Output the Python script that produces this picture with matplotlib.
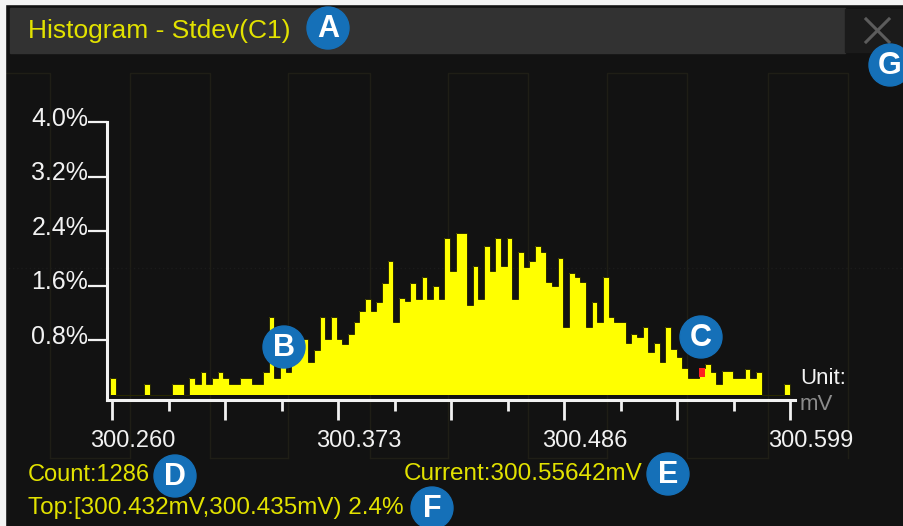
import numpy as np
import matplotlib
matplotlib.use('Agg')
import matplotlib.pyplot as plt
from matplotlib.patches import Rectangle, Circle
from matplotlib.transforms import ScaledTranslation

plt.rcParams['font.family'] = ['Liberation Sans', 'DejaVu Sans']

# histogram (percent of 1286 samples per bin)
bin_lo = 300.259
bin_hi = 300.599
hist_pct = [
    0.25, 0, 0, 0, 0, 0, 0.16, 0, 0, 0, 0, 0.16, 0.16, 0, 0.25, 0.16, 0.33, 0.16, 0.25, 0.33,
    0.25, 0.16, 0.16, 0.25, 0.25, 0.16, 0.16, 0.33, 1.15, 0.25, 0.49, 0.33, 0.58, 0.66, 0.82, 0.49,
    0.66, 1.15, 0.82, 1.15, 0.82, 0.74, 0.90, 1.07, 1.23, 1.40, 1.23, 1.36, 1.64, 1.97, 1.07, 1.42,
    1.37, 1.64, 1.40, 1.73, 1.40, 1.59, 1.40, 2.30, 1.81, 2.38, 2.38, 1.32, 1.89, 1.40, 2.18, 1.81,
    2.30, 1.89, 2.30, 1.40, 2.10, 1.88, 1.97, 2.18, 2.10, 1.66, 1.59, 2.01, 0.99, 1.79, 1.73, 1.66,
    0.99, 1.36, 1.07, 1.73, 1.15, 1.07, 1.07, 0.76, 0.90, 0.85, 0.99, 0.63, 0.76, 0.48, 0.99, 0.68,
    0.55, 0.39, 0.25, 0.25, 0.39, 0.46, 0.33, 0.16, 0.35, 0.35, 0.25, 0.25, 0.38, 0.25, 0.33, 0,
    0, 0, 0, 0.16,
]
current_bin = 104
current_red_pct = 0.13

x_axis_lo = 300.260
x_axis_hi = 300.599
x_tick_labels = ['300.260', '300.373', '300.486', '300.599']
y_ticks = [0.8, 1.6, 2.4, 3.2, 4.0]
y_tick_labels = ['0.8%', '1.6%', '2.4%', '3.2%', '4.0%']

title = 'Histogram - Stdev(C1)'
count_txt = 'Count:1286'
current_txt = 'Current:300.55642mV'
top_txt = 'Top:[300.432mV,300.435mV) 2.4%'
markers = ['A', 'B', 'C', 'D', 'E', 'F', 'G']
marker_xy = [(328, 28), (284, 347), (701, 337), (175, 476), (668, 474), (432, 508), (890, 65)]

BG = '#121212'
YELLOW = '#ffff00'
TXT_YELLOW = '#e2e200'
WHITE = '#f2f2f2'
BLUE = '#1570b8'

W, H = 904, 526
fig = plt.figure(figsize=(W / 100, H / 100), dpi=100, facecolor=BG)

# background layer in pixel coordinates
bg = fig.add_axes([0, 0, 1, 1], zorder=0)
bg.set_xlim(0, W)
bg.set_ylim(H, 0)
bg.axis('off')
bg.add_patch(Rectangle((0, 0), W, H, color=BG, zorder=0))
# faint scope trace / graticule behind the window
trace = '#1f1e16'
highs = [(-30, 50), (130, 210), (288, 370), (448, 528), (607, 687), (768, 848)]
for a, b in highs:
    bg.plot([a, a, b, b], [458, 73, 73, 458], color=trace, lw=1.0, zorder=1)
for a, b in zip([h[1] for h in highs[:-1]], [h[0] for h in highs[1:]]):
    bg.plot([a, b], [458, 458], color=trace, lw=1.0, zorder=1)
bg.plot([0, W], [268, 268], color='#1b1b1b', lw=1, ls=(0, (1, 2)), zorder=1)
# window frame and title bar
bg.add_patch(Rectangle((0, 0), W, 4, color='#f4f4f4', zorder=3))
bg.add_patch(Rectangle((0, 0), 5, H, color='#f4f4f4', zorder=3))
bg.add_patch(Rectangle((10, 8), 835, 45, color='#323232', zorder=3))
bg.add_patch(Rectangle((845, 9), 57, 43, color='#1b1b1b', zorder=3))
bg.plot([866, 889], [19, 42], color='#5c5c5c', lw=2.2, zorder=4)
bg.plot([866, 889], [42, 19], color='#5c5c5c', lw=2.2, zorder=4)
bg.text(28, 31, title, color=TXT_YELLOW, fontsize=19, va='center', ha='left', zorder=4)

# histogram axes, placed so the value scale lines up with the screen
ax = fig.add_axes([107 / W, (H - 400) / H, (795 - 107) / W, (400 - 122) / H], zorder=1)
ax.set_facecolor('none')
px_per_mv = 678 / (x_axis_hi - x_axis_lo)
ax.set_xlim(x_axis_lo - 5 / px_per_mv, x_axis_hi + 5 / px_per_mv)
ax.set_ylim(-(400 - 395) / 68.1, 4.0)

edges = np.linspace(bin_lo, bin_hi, len(hist_pct) + 1)
ax.stairs(hist_pct, edges, fill=True, color=YELLOW, zorder=2)
ax.stairs(hist_pct, edges, color='#2a2a00', lw=0.7, zorder=3)
bw = edges[1] - edges[0]
ax.bar(edges[current_bin], current_red_pct, width=bw, align='edge',
       bottom=hist_pct[current_bin] - current_red_pct, color='#ff2020', zorder=4)

for s in ['top', 'right']:
    ax.spines[s].set_visible(False)
for s in ['left', 'bottom']:
    ax.spines[s].set_color(WHITE)
    ax.spines[s].set_linewidth(2.2)
ax.spines['left'].set_bounds(ax.get_ylim()[0], 4.0)

ax.set_yticks(y_ticks)
ax.set_yticklabels(y_tick_labels)
ax.tick_params(axis='y', direction='out', length=13.5, width=1.6, color=WHITE,
               labelcolor=WHITE, labelsize=18, pad=0)
for lab in ax.get_yticklabels():
    lab.set_transform(lab.get_transform() + ScaledTranslation(0, 0.06, fig.dpi_scale_trans))

xt = np.linspace(x_axis_lo, x_axis_hi, 13)
ax.set_xticks(xt[::2])
ax.set_xticks(xt[1::2], minor=True)
labels = []
for i, v in enumerate(xt[::2]):
    labels.append(x_tick_labels[i // 2] if i % 2 == 0 else '')
ax.set_xticklabels(labels)
ax.tick_params(axis='x', which='major', direction='out', length=14.5, width=2.0, color=WHITE,
               labelcolor=WHITE, labelsize=17, pad=7)
ax.tick_params(axis='x', which='minor', direction='out', length=8, width=2.0, color=WHITE)
for lab in ax.get_xticklabels():
    lab.set_transform(lab.get_transform() + ScaledTranslation(0.21, 0, fig.dpi_scale_trans))

# overlay: readouts and callout markers
ov = fig.add_axes([0, 0, 1, 1], zorder=5)
ov.set_xlim(0, W)
ov.set_ylim(H, 0)
ov.axis('off')
ov.patch.set_alpha(0)
ov.text(800, 378, 'Unit:', color=WHITE, fontsize=16, va='center', ha='left')
ov.text(800, 405, 'mV', color='#8c8c8c', fontsize=16, va='center', ha='left')
ov.text(28, 475, count_txt, color=TXT_YELLOW, fontsize=17, va='center', ha='left')
ov.text(404, 474, current_txt, color=TXT_YELLOW, fontsize=17.5, va='center', ha='left')
ov.text(28, 508, top_txt, color=TXT_YELLOW, fontsize=17.5, va='center', ha='left')
for m, (cx, cy) in zip(markers, marker_xy):
    ov.add_patch(Circle((cx, cy), 21, color=BLUE))
    ov.text(cx, cy + 1, m, color='white', fontsize=22, fontweight='bold', ha='center', va='center')

fig.savefig('out.png', dpi=100, facecolor=BG)
